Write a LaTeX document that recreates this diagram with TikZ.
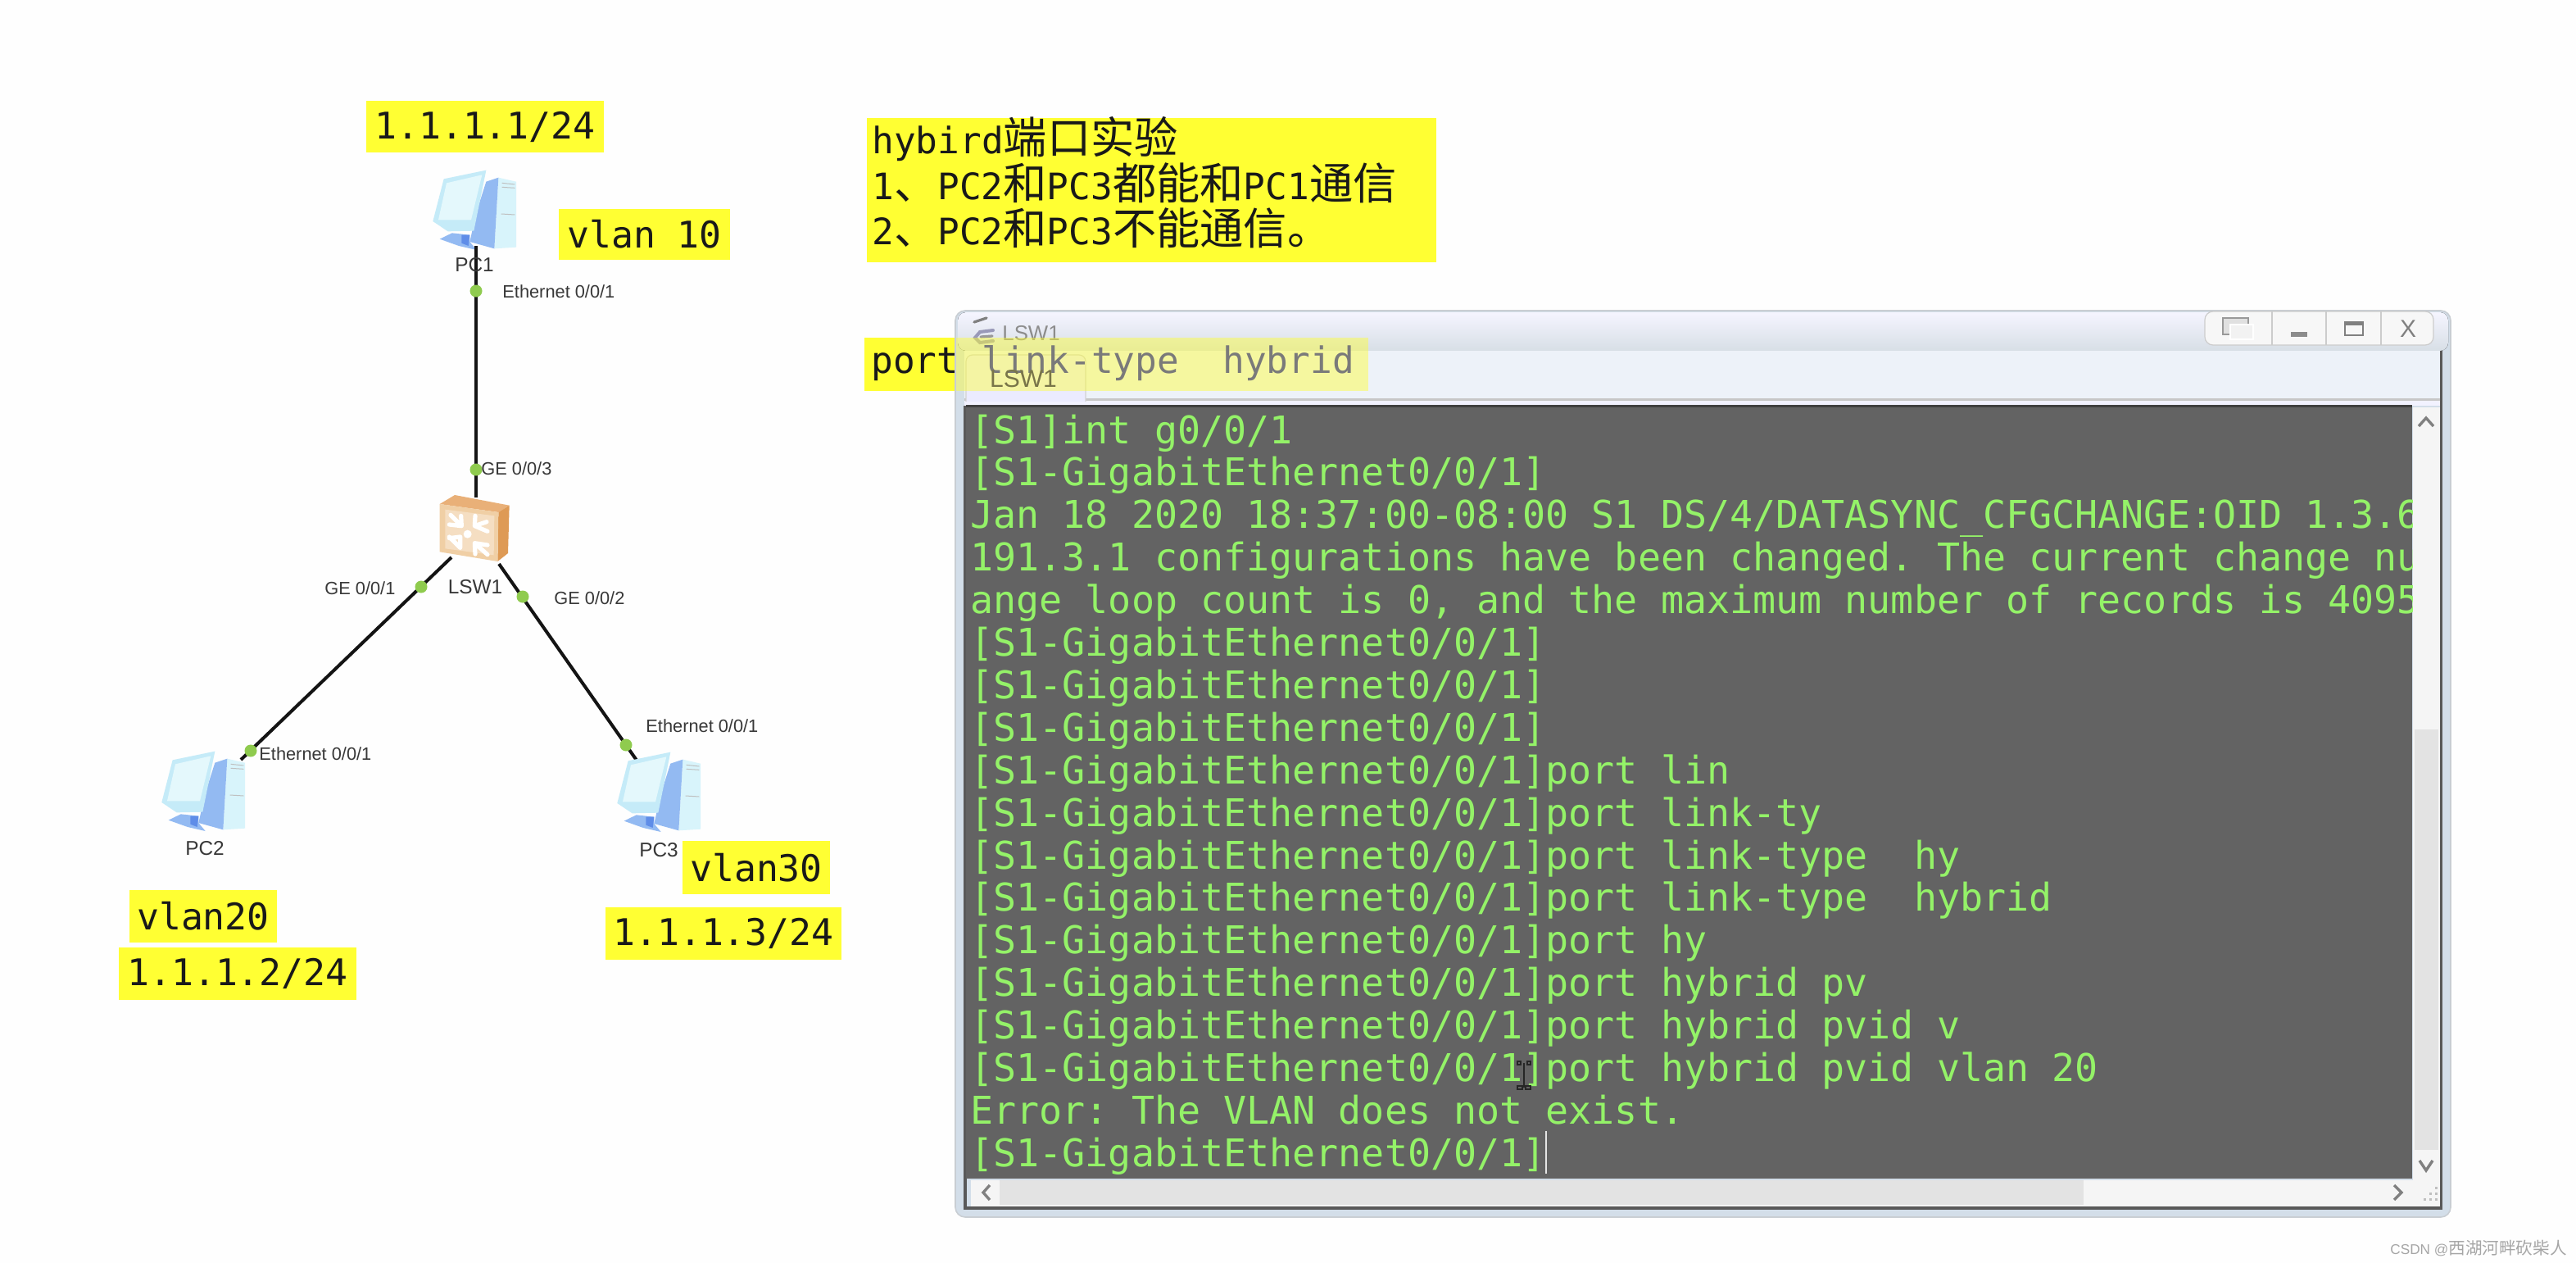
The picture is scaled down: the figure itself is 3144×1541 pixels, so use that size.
\documentclass[tikz,border=0pt]{standalone}
\usepackage{fontspec}
\setmainfont{Liberation Sans}
\setsansfont{Liberation Sans}
\setmonofont{DejaVu Sans Mono}
\newfontfamily\cjkf[Scale=1.2]{Noto Sans CJK SC}
\newfontfamily\cjkw{Noto Sans CJK SC}
\newcommand{\cn}[1]{{\cjkf #1}}
\newcommand{\pmt}{[S1-GigabitEthernet0/0/1]}
\newcommand{\termln}[2]{\node[termtext] (term#1) at (1184,{541+51.9*(#1-1)}) {#2};}
\newcommand{\ylab}[6]{\fill[yfill] (#2,#3) rectangle (#4,#5);
  \node[ytext] (#1) at ({(#2+#4)/2},{(#3+#5)/2}) {#6};}
\definecolor{yel}{HTML}{FFFF33}
\definecolor{termbg}{HTML}{636363}
\definecolor{termfg}{HTML}{94F268}
\definecolor{framec}{HTML}{D3DEE9}
\definecolor{edgec}{HTML}{C9CED3}
\definecolor{dotc}{HTML}{8FCB4E}
\definecolor{panelc}{HTML}{EDF2F9}
\tikzset{
  x=0.5pt,y=-0.5pt,
  yfill/.style={fill=yel},
  ytext/.style={inner sep=0pt,font=\ttfamily\fontsize{22.4pt}{26pt}\selectfont,text=black!90},
  notetext/.style={inner sep=0pt,anchor=base west,font=\ttfamily\fontsize{22.2pt}{26pt}\selectfont,text=black!90},
  termtext/.style={inner sep=0pt,anchor=base west,text=termfg,font=\ttfamily\fontsize{23.33pt}{26pt}\selectfont},
  small/.style={inner sep=0pt,text=black!78,font=\sffamily\fontsize{10.9pt}{12pt}\selectfont},
  devlabel/.style={inner sep=0pt,text=black!78,font=\sffamily\fontsize{12.2pt}{13pt}\selectfont},
  link/.style={line width=2pt,black!92},
  portdot/.style={circle,fill=dotc,inner sep=0pt,minimum size=7.5pt},
  chev/.style={draw=black!50,line width=1.7pt,line join=miter},
  pcicon/.pic={
    \fill[fill=pctower] (295,65) -- (360,80) -- (360,320) -- (280,325) -- cycle;
    \draw[black!25,line width=.5pt] (308,85) -- (355,90) (308,100) -- (355,103) (305,198) -- (355,201);
    \fill[fill=pcside] (250,80) -- (295,65) -- (280,325) -- (190,300) -- (215,190) -- cycle;
    \fill[fill=pcside] (80,290) -- (125,268) -- (190,275) -- (190,300) -- (215,330) -- (150,315) -- cycle;
    \fill[fill=pcdark] (160,275) -- (190,275) -- (185,315) -- (160,305) -- cycle;
    \fill[fill=pcbody] (95,70) -- (250,38) -- (205,260) -- (110,262) -- (55,225) -- cycle;
    \fill[fill=pcscreen] (105,85) -- (235,55) -- (195,220) -- (75,220) -- cycle;
  },
  swicon/.pic={
    \fill[fill=swtop] (50,75) -- (105,42) -- (305,80) -- (265,105) -- cycle;
    \fill[fill=swside] (265,105) -- (305,80) -- (300,255) -- (262,285) -- cycle;
    \fill[fill=swfront] (50,75) -- (265,105) -- (262,285) -- (50,250) -- cycle;
    \fill[fill=swinner] (70,95) -- (250,118) -- (248,262) -- (70,238) -- cycle;
    \draw[white,line width=2.6pt,line cap=round]
      (90,115) -- (130,155) (85,150) -- (128,155) (128,118) -- (130,155)
      (225,175) -- (178,155) (180,118) -- (178,155) (222,140) -- (178,155)
      (85,195) -- (125,235) (125,195) -- (85,200) (125,195) -- (125,235)
      (225,260) -- (178,218) (178,218) -- (225,225) (178,218) -- (180,258);
    \fill[white] (152,185) circle (15);
  },
}
\definecolor{pctower}{HTML}{D8F4FB}
\definecolor{pcside}{HTML}{93BAF2}
\definecolor{pcdark}{HTML}{5F8DE8}
\definecolor{pcbody}{HTML}{C5EBF8}
\definecolor{pcscreen}{HTML}{E4F8FC}
\definecolor{swtop}{HTML}{E9B078}
\definecolor{swside}{HTML}{DE9A55}
\definecolor{swfront}{HTML}{F0CFA5}
\definecolor{swinner}{HTML}{F5DEC2}
\begin{document}
\begin{tikzpicture}
\useasboundingbox (0,0) rectangle (3144,1541);
\fill[white!99.5!black] (0,0) rectangle (3144,1541);

% network
\coordinate (pc1c) at (581,300);
\coordinate (swt) at (581,607);
\coordinate (swl) at (551,680);
\coordinate (swr) at (609,688);
\coordinate (pc2c) at (294,927);
\coordinate (pc3c) at (778,929);
\draw[link] (pc1c) -- (swt);
\draw[link] (swl) -- (pc2c);
\draw[link] (swr) -- (pc3c);
\pic (pc1) [scale=1/3] at (510,195) {pcicon};
\pic (pc2) [scale=1/3] at (179,904) {pcicon};
\pic (pc3) [scale=1/3] at (735,905) {pcicon};
\pic (sw) [scale=1/3] at (520,590) {swicon};
\draw[link] (pc1c) -- ++(0,14);
\node[portdot] (d1) at (581,355) {};
\node[portdot] (d2) at (581,573) {};
\node[portdot] (d3) at (514,716) {};
\node[portdot] (d4) at (638,728) {};
\node[portdot] (d5) at (306,916) {};
\node[portdot] (d6) at (764,909) {};
\node[devlabel] (pc1l) at (579,323) {PC1};
\node[devlabel] (pc2l) at (250,1035) {PC2};
\node[devlabel] (pc3l) at (804,1037) {PC3};
\node[devlabel] (swl1) at (580,716) {LSW1};
\node[small,anchor=west] (e1) at (613,356) {Ethernet 0/0/1};
\node[small,anchor=west] (g3) at (587,572) {GE 0/0/3};
\node[small,anchor=west] (g1) at (396,718) {GE 0/0/1};
\node[small,anchor=west] (g2) at (676,730) {GE 0/0/2};
\node[small,anchor=west] (e2) at (316,920) {Ethernet 0/0/1};
\node[small,anchor=west] (e3) at (788,886) {Ethernet 0/0/1};

% yellow labels
\ylab{ip1}{447}{123}{737}{186}{1.1.1.1/24}
\ylab{v10}{682}{255}{891}{317}{vlan 10}
\ylab{v30}{833}{1026}{1013}{1091}{vlan30}
\ylab{ip3}{739}{1107}{1027}{1171}{1.1.1.3/24}
\ylab{v20}{158}{1086}{338}{1150}{vlan20}
\ylab{ip2}{145}{1156}{435}{1220}{1.1.1.2/24}

% note
\fill[yfill] (1058,144) rectangle (1753,320);
\node[notetext] (n1) at (1064,187) {hybird\cn{端口实验}};
\node[notetext] (n2) at (1064,243) {1\cn{、}PC2\cn{和}PC3\cn{都能和}PC1\cn{通信}};
\node[notetext] (n3) at (1064,298) {2\cn{、}PC2\cn{和}PC3\cn{不能通信。}};

% port command (under window)
\fill[yfill] (1055,412) rectangle (1170,477);
\node[notetext] (portw) at (1063,455) {port};

% window
\fill[framec,draw=edgec,line width=.8pt,rounded corners=6pt] (1166,379) rectangle (2991,1485);
\fill[top color=white!96!blue,bottom color=black!6!framec!70!white,rounded corners=5pt] (1169,381) rectangle (2988,428);
\fill[panelc] (1177,428) rectangle (2980,488);
\fill[black!22] (1177,486) rectangle (2980,489);
\fill[white!95!blue] (1177,489) rectangle (2980,495);
\fill[black!65] (2978,428) rectangle (2981,1476);
\fill[black!65] (1176,495) rectangle (1180,1476);
\fill[black!65] (1176,1472) rectangle (2981,1476);
\fill[termbg] (1179,495) rectangle (2944,1438);
\fill[black!75] (1179,494) rectangle (2944,497);
% scrollbars
\fill[black!4] (2945,497) rectangle (2978,1472);
\fill[black!11] (2947,890) rectangle (2976,1403);
\fill[black!4] (1185,1440) rectangle (2978,1472);
\fill[black!11] (1220,1440) rectangle (2543,1470);
\draw[chev] (2952,520) -- (2961,510) -- (2970,520);
\draw[chev] (2953,1416) -- (2961,1428) -- (2969,1416);
\draw[chev] (1208,1446) -- (1200,1455) -- (1208,1464);
\draw[chev] (2922,1446) -- (2931,1455) -- (2922,1464);
\foreach \a/\b in {2972/1462,2965/1462,2958/1462,2972/1455,2965/1455,2972/1448}
  \fill[black!25] (\a,\b) rectangle ++(3,3);
% window buttons
\draw[fill=black!3,draw=black!20,line width=.6pt,rounded corners=5pt] (2691,380) rectangle (2970,421);
\draw[black!20,line width=.6pt] (2773,380) -- (2773,421) (2839,380) -- (2839,421) (2906,380) -- (2906,421);
\draw[fill=black!12,draw=black!40,line width=.7pt] (2713,388) rectangle (2744,408);
\draw[fill=black!5,draw=white,line width=.7pt] (2722,396) rectangle (2750,414);
\fill[black!45] (2796,405) rectangle (2816,411);
\draw[black!50,line width=1pt] (2862,393) rectangle (2884,409);
\fill[black!50] (2862,393) rectangle (2884,397);
\node[inner sep=0pt,text=black!50,font=\sffamily\fontsize{15pt}{16pt}\selectfont] (closex) at (2939,401) {X};
% title
\draw[black!50,line width=1.6pt,line cap=round] (1189,393) -- (1204,388);
\draw[blue!30!black!40,line width=2pt,line cap=round] (1212,403) -- (1196,405) -- (1190,412) -- (1196,418) -- (1212,416);
\draw[black!40,line width=1.6pt,line cap=round] (1197,411) -- (1211,410);
\node[inner sep=0pt,anchor=west,text=black!45,font=\sffamily\fontsize{12.9pt}{14pt}\selectfont] (title) at (1223,407) {LSW1};
% tab
\draw[fill=white!92!blue,draw=black!18,line width=.6pt,rounded corners=4pt] (1179,490) -- (1179,433) -- (1325,433) -- (1325,490);
% translucent overlay of the command label
\fill[yel,opacity=.45] (1167,412) rectangle (1670,477);
\node[notetext,text=black!52] (portr) at (1198,455) {link-type\ \ hybrid};
\node[inner sep=0pt,text=black!50!yellow!80!black,font=\sffamily\fontsize{15pt}{16pt}\selectfont] (tabt) at (1249,462) {LSW1};

% terminal text
\begin{scope}
\clip (1179,495) rectangle (2944,1438);
\termln{1}{[S1]int g0/0/1}
\termln{2}{\pmt}
\termln{3}{Jan 18 2020 18:37:00-08:00 S1 DS/4/DATASYNC\_CFGCHANGE:OID 1.3.6}
\termln{4}{191.3.1 configurations have been changed. The current change nu}
\termln{5}{ange loop count is 0, and the maximum number of records is 4095}
\termln{6}{\pmt}
\termln{7}{\pmt}
\termln{8}{\pmt}
\termln{9}{\pmt{}port lin}
\termln{10}{\pmt{}port link-ty}
\termln{11}{\pmt{}port link-type\ \ hy}
\termln{12}{\pmt{}port link-type\ \ hybrid}
\termln{13}{\pmt{}port hy}
\termln{14}{\pmt{}port hybrid pv}
\termln{15}{\pmt{}port hybrid pvid v}
\termln{16}{\pmt{}port hybrid pvid vlan 20}
\termln{17}{Error: The VLAN does not exist.}
\termln{18}{\pmt}
\end{scope}
% caret and mouse cursor
\draw[white!90!black,line width=.6pt] (1887,1380) -- (1887,1432);
\draw[black!85,line width=1pt] (1860,1297) -- (1860,1327);
\draw[black!85,line width=.8pt] (1852,1295) rectangle (1856,1299) (1864,1295) rectangle (1868,1299);
\draw[black!85,line width=1pt] (1852,1325) rectangle (1858,1329) (1862,1325) rectangle (1868,1329);

% watermark
\node[inner sep=0pt,anchor=west,text=black!35] (wm) at (2917,1523) {\fontsize{8.6pt}{12pt}\selectfont CSDN @\cjkw\fontsize{10.3pt}{12pt}\selectfont 西湖河畔砍柴人};
\end{tikzpicture}
\end{document}
